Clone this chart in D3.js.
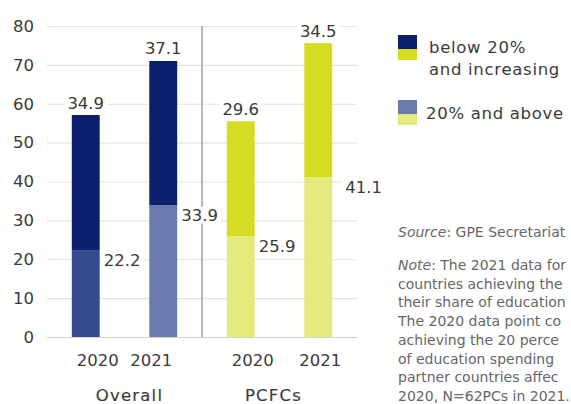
<!DOCTYPE html>
<html>
<head>
<meta charset="utf-8">
<script src="https://cdn.jsdelivr.net/npm/d3@7"></script>
<style>
  html, body { margin: 0; padding: 0; background: #fff; }
  svg { display: block; font-family: "DejaVu Sans", "Noto Sans", sans-serif; }
</style>
</head>
<body>
<svg id="chart" width="571" height="404"></svg>
<script>
// Share of partner countries (%), stacked by spending status
const groups = ["Overall", "PCFCs"];
const years = ["2020", "2021"];
const aboveValues = [[22.2, 33.9], [25.9, 41.1]];   // 20% and above
const belowValues = [[34.9, 37.1], [29.6, 34.5]];   // below 20% and increasing
const yTicks = [0, 10, 20, 30, 40, 50, 60, 70, 80];
const legendLabels = [["below 20%", "and increasing"], ["20% and above"]];
const noteLines = [
  ["Source", ": GPE Secretariat"],
  ["Note", ": The 2021 data for"],
  ["", "countries achieving the"],
  ["", "their share of education"],
  ["", "The 2020 data point co"],
  ["", "achieving the 20 perce"],
  ["", "of education spending"],
  ["", "partner countries affec"],
  ["", "2020, N=62PCs in 2021."]
];

const colors = {
  below: ["#0b1f6d", "#d6dc22"],
  above: [["#364b8c", "#6a7aad"], ["#e6e97e", "#e6e97e"]]
};
const textColor = "#3a3a3a";
const fontSize = 16.5;

const svg = d3.select("#chart");
const plotLeft = 47, plotRight = 357, plotTop = 26, plotBottom = 337;

const y = d3.scaleLinear().domain([0, 80]).range([plotBottom, plotTop]);

// One band per bar, in group order
const barData = [];
groups.forEach((g, gi) => years.forEach((yr, yi) => {
  barData.push({ key: g + yr, g, gi, yr, yi, a: aboveValues[gi][yi], b: belowValues[gi][yi] });
}));
const x = d3.scaleBand().domain(barData.map(d => d.key))
  .range([plotLeft, plotRight]).paddingInner(0.64).paddingOuter(0.32);
const barW = x.bandwidth();

// Gridlines
const grid = svg.append("g");
grid.selectAll("line").data(yTicks).join("line")
  .attr("x1", plotLeft).attr("x2", plotRight)
  .attr("y1", d => y(d) + 0.5).attr("y2", d => y(d) + 0.5)
  .attr("stroke", d => d === 0 ? "#cfcfcf" : "#e3e3e3").attr("stroke-width", 1.2);

// Y axis labels
const yAxis = d3.axisLeft(y).tickValues(yTicks).tickSize(0).tickPadding(0);
const ya = svg.append("g").attr("transform", `translate(${plotLeft - 13},0)`).call(yAxis);
ya.select(".domain").remove();
ya.selectAll("text").attr("font-size", fontSize).attr("fill", textColor)
  .attr("font-family", "DejaVu Sans");

// Separator between the two groups
const sepX = (x("Overall2021") + barW + x("PCFCs2020")) / 2;
svg.append("line")
  .attr("x1", sepX).attr("x2", sepX)
  .attr("y1", y(80)).attr("y2", y(0))
  .attr("stroke", "#a0a0a0").attr("stroke-width", 1.5);

// Stacked bars
const bars = svg.append("g");
bars.selectAll("rect.above").data(barData).join("rect")
  .attr("class", "above")
  .attr("x", d => x(d.key)).attr("width", barW)
  .attr("y", d => y(d.a)).attr("height", d => y(0) - y(d.a))
  .attr("fill", d => colors.above[d.gi][d.yi]);
bars.selectAll("rect.below").data(barData).join("rect")
  .attr("class", "below")
  .attr("x", d => x(d.key)).attr("width", barW)
  .attr("y", d => y(d.a + d.b)).attr("height", d => y(d.a) - y(d.a + d.b))
  .attr("fill", d => colors.below[d.gi]);

// Value labels with a white backing so gridlines break around them
function label(sel, xv, yv, txt, anchor) {
  const g = sel.append("g");
  const t = g.append("text")
    .attr("x", xv).attr("y", yv).attr("text-anchor", anchor)
    .attr("dominant-baseline", "central")
    .attr("font-size", fontSize).attr("fill", textColor).text(txt);
  const bb = t.node().getBBox();
  g.insert("rect", "text")
    .attr("x", bb.x - 3).attr("y", bb.y + 1).attr("width", bb.width + 6).attr("height", bb.height - 2)
    .attr("fill", "#fff");
}
const labels = svg.append("g");
barData.forEach(d => {
  const gap = d.key === "PCFCs2021" ? 13 : 4;
  label(labels, x(d.key) + barW / 2, y(d.a + d.b) - 12, d.b.toFixed(1), "middle");
  label(labels, x(d.key) + barW + gap, y(d.a) + 10, d.a.toFixed(1), "start");
});

// Year labels under the bars, then group names
const yearShift = { Overall2020: 12, Overall2021: -12, PCFCs2020: 12, PCFCs2021: 2 };
const xl = svg.append("g").attr("font-size", fontSize).attr("fill", textColor);
barData.forEach(d => {
  xl.append("text")
    .attr("x", x(d.key) + barW / 2 + yearShift[d.key])
    .attr("y", 360).attr("dominant-baseline", "central")
    .attr("text-anchor", "middle").text(d.yr);
});
groups.forEach((g, gi) => {
  const cx = (x(g + years[0]) + x(g + years[1]) + barW) / 2;
  xl.append("text")
    .attr("x", cx + (gi === 0 ? 5 : -6)).attr("y", 395).attr("dominant-baseline", "central")
    .attr("text-anchor", "middle").attr("letter-spacing", 1.2)
    .attr("stroke", textColor).attr("stroke-width", 0.15)
    .text(g);
});

// Legend
const leg = svg.append("g").attr("transform", "translate(398,35)");
const swW = 19;
[[colors.below[0], colors.below[1]], [colors.above[0][1], colors.above[1][1]]].forEach((pair, i) => {
  const gy = i * 65;
  leg.append("rect").attr("x", 0).attr("y", gy).attr("width", swW).attr("height", 14).attr("fill", pair[0]);
  leg.append("rect").attr("x", 0).attr("y", gy + 14).attr("width", swW).attr("height", 11).attr("fill", pair[1]);
  legendLabels[i].forEach((ln, j) => {
    leg.append("text")
      .attr("x", i === 0 ? 31 : 28).attr("y", gy + (i === 0 ? 12 : 13) + j * 22.5)
      .attr("dominant-baseline", "central").attr("letter-spacing", 0.7)
      .attr("font-size", fontSize).attr("fill", textColor).text(ln);
  });
});

// Source and note
const note = svg.append("g").attr("font-size", 14).attr("fill", "#666");
noteLines.forEach((ln, i) => {
  const t = note.append("text").attr("x", 398)
    .attr("y", i === 0 ? 232 : 265 + (i - 1) * 18.7)
    .attr("dominant-baseline", "central");
  if (ln[0]) t.append("tspan").attr("font-style", "italic").text(ln[0]);
  t.append("tspan").text(ln[1]);
});
</script>
</body>
</html>
